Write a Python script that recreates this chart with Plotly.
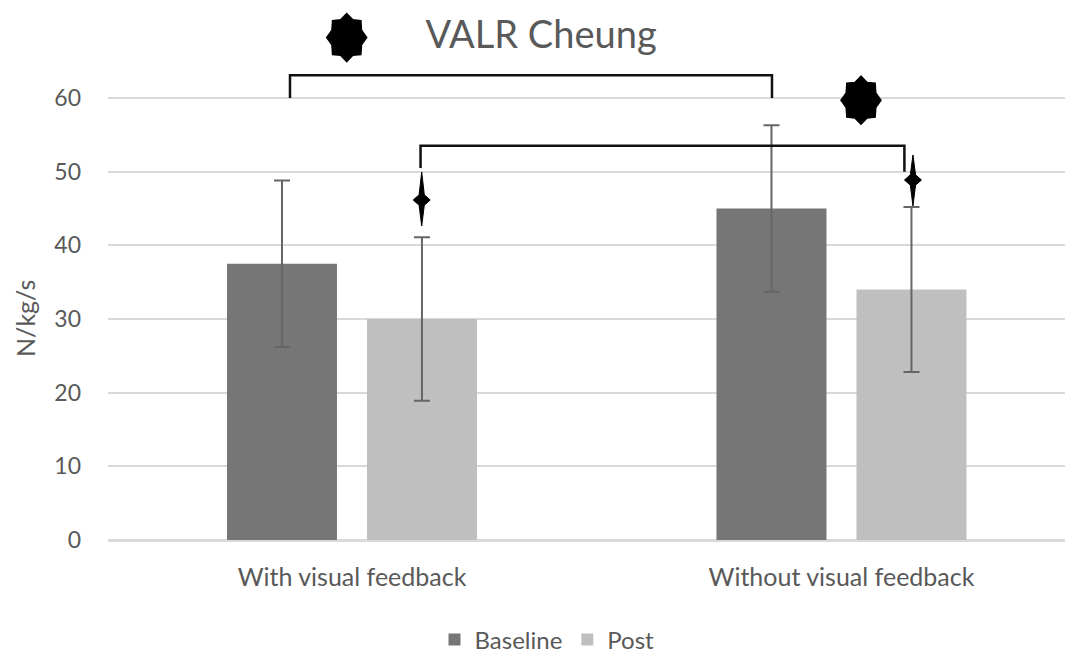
import numpy as np
import plotly.graph_objects as go

# Data
conditions = ["With visual feedback", "Without visual feedback"]
baseline = [37.5, 45.0]
post = [30.0, 34.0]
baseline_sd = [11.3, 11.3]
post_sd = [11.1, 11.2]

FONT = "Lato"
GREY_TEXT = "#595959"
GRID = "#d9d9d9"

fig = go.Figure()

bar_w = 0.2247
fig.add_bar(
    name="Baseline", x=conditions, y=baseline,
    width=bar_w, offset=-0.2554,
    marker=dict(color="#767676", line=dict(width=0)),
    error_y=dict(type="data", array=baseline_sd, color="#666666", thickness=2, width=8),
)
fig.add_bar(
    name="Post", x=conditions, y=post,
    width=bar_w, offset=0.0306,
    marker=dict(color="#bfbfbf", line=dict(width=0)),
    error_y=dict(type="data", array=post_sd, color="#666666", thickness=2, width=8),
)


def star_path(n, r_out_x, r_out_y, ratio):
    """Closed n-pointed star path in pixel offsets (y up)."""
    pts = []
    for i in range(2 * n):
        a = np.pi / 2 + i * np.pi / n
        r = 1.0 if i % 2 == 0 else ratio
        pts.append((r * r_out_x * np.cos(a), r * r_out_y * np.sin(a)))
    return "M " + " L ".join(f"{px:.2f},{py:.2f}" for px, py in pts) + " Z"


def spike_path(up, down, half_w, body):
    return (f"M 0,{up} L {body},{body*2} L {half_w},0 L {body},{-body*2} "
            f"L 0,{-down} L {-body},{-body*2} L {-half_w},0 L {-body},{body*2} Z")


shapes = []
# Significance brackets
for x0, x1, y_top, y0_end, y1_end in [
    (-0.1267, 0.858, 63.1, 60.0, 60.0),
    (0.140, 1.1285, 53.5, 50.5, 50.0),
]:
    shapes.append(dict(
        type="path", xref="x", yref="y",
        path=f"M {x0},{y0_end} L {x0},{y_top} L {x1},{y_top} L {x1},{y1_end}",
        line=dict(color="#111111", width=2.5),
    ))

# Asterisk-style stars above brackets
for xa, ya in [(-0.0108, 68.2), (1.0398, 59.7)]:
    shapes.append(dict(
        type="path", xref="x", yref="y", xsizemode="pixel", ysizemode="pixel",
        xanchor=xa, yanchor=ya,
        path=star_path(8, 20, 24, 0.8),
        fillcolor="#000000", line=dict(color="#000000", width=1.5),
    ))

# Small spike markers above post error bars
for xa, ya, up, down in [(0.1424, 46.15, 28, 26), (1.146, 48.87, 25, 26)]:
    shapes.append(dict(
        type="path", xref="x", yref="y", xsizemode="pixel", ysizemode="pixel",
        xanchor=xa, yanchor=ya,
        path=spike_path(up, down, 8.5, 2.6),
        fillcolor="#000000", line=dict(color="#000000", width=1),
    ))

fig.update_layout(
    width=1065, height=664,
    margin=dict(l=108, r=0, t=0, b=124),
    paper_bgcolor="white", plot_bgcolor="white",
    barmode="group",
    font=dict(family=FONT, color=GREY_TEXT),
    title=dict(
        text="VALR Cheung", xref="container", yref="container",
        x=0.508, y=1 - 35 / 664, xanchor="center", yanchor="middle",
        font=dict(family=FONT, size=38, color=GREY_TEXT),
    ),
    xaxis=dict(
        range=[-0.4985, 1.4566], showgrid=False, showline=True,
        linecolor=GRID, linewidth=2, ticks="",
        tickfont=dict(family=FONT, size=25, color=GREY_TEXT),
        ticklabelstandoff=14,
    ),
    yaxis=dict(
        range=[0, 73.3], tickvals=[0, 10, 20, 30, 40, 50, 60],
        showgrid=True, gridcolor=GRID, gridwidth=2,
        zeroline=True, zerolinecolor=GRID, zerolinewidth=2,
        ticks="", ticklabelstandoff=26,
        tickfont=dict(family=FONT, size=23, color=GREY_TEXT),
    ),
    legend=dict(
        orientation="h", xref="container", yref="container",
        x=547 / 1065, y=1 - 640 / 664, xanchor="center", yanchor="middle",
        font=dict(family=FONT, size=24, color=GREY_TEXT),
        itemwidth=30,
    ),
    shapes=shapes,
    annotations=[dict(
        text="N/kg/s", xref="paper", yref="y", x=0, y=30,
        xshift=-83, xanchor="center", yanchor="middle",
        textangle=-90, showarrow=False,
        font=dict(family=FONT, size=25, color=GREY_TEXT),
    )],
)

fig.write_html("out.html")
